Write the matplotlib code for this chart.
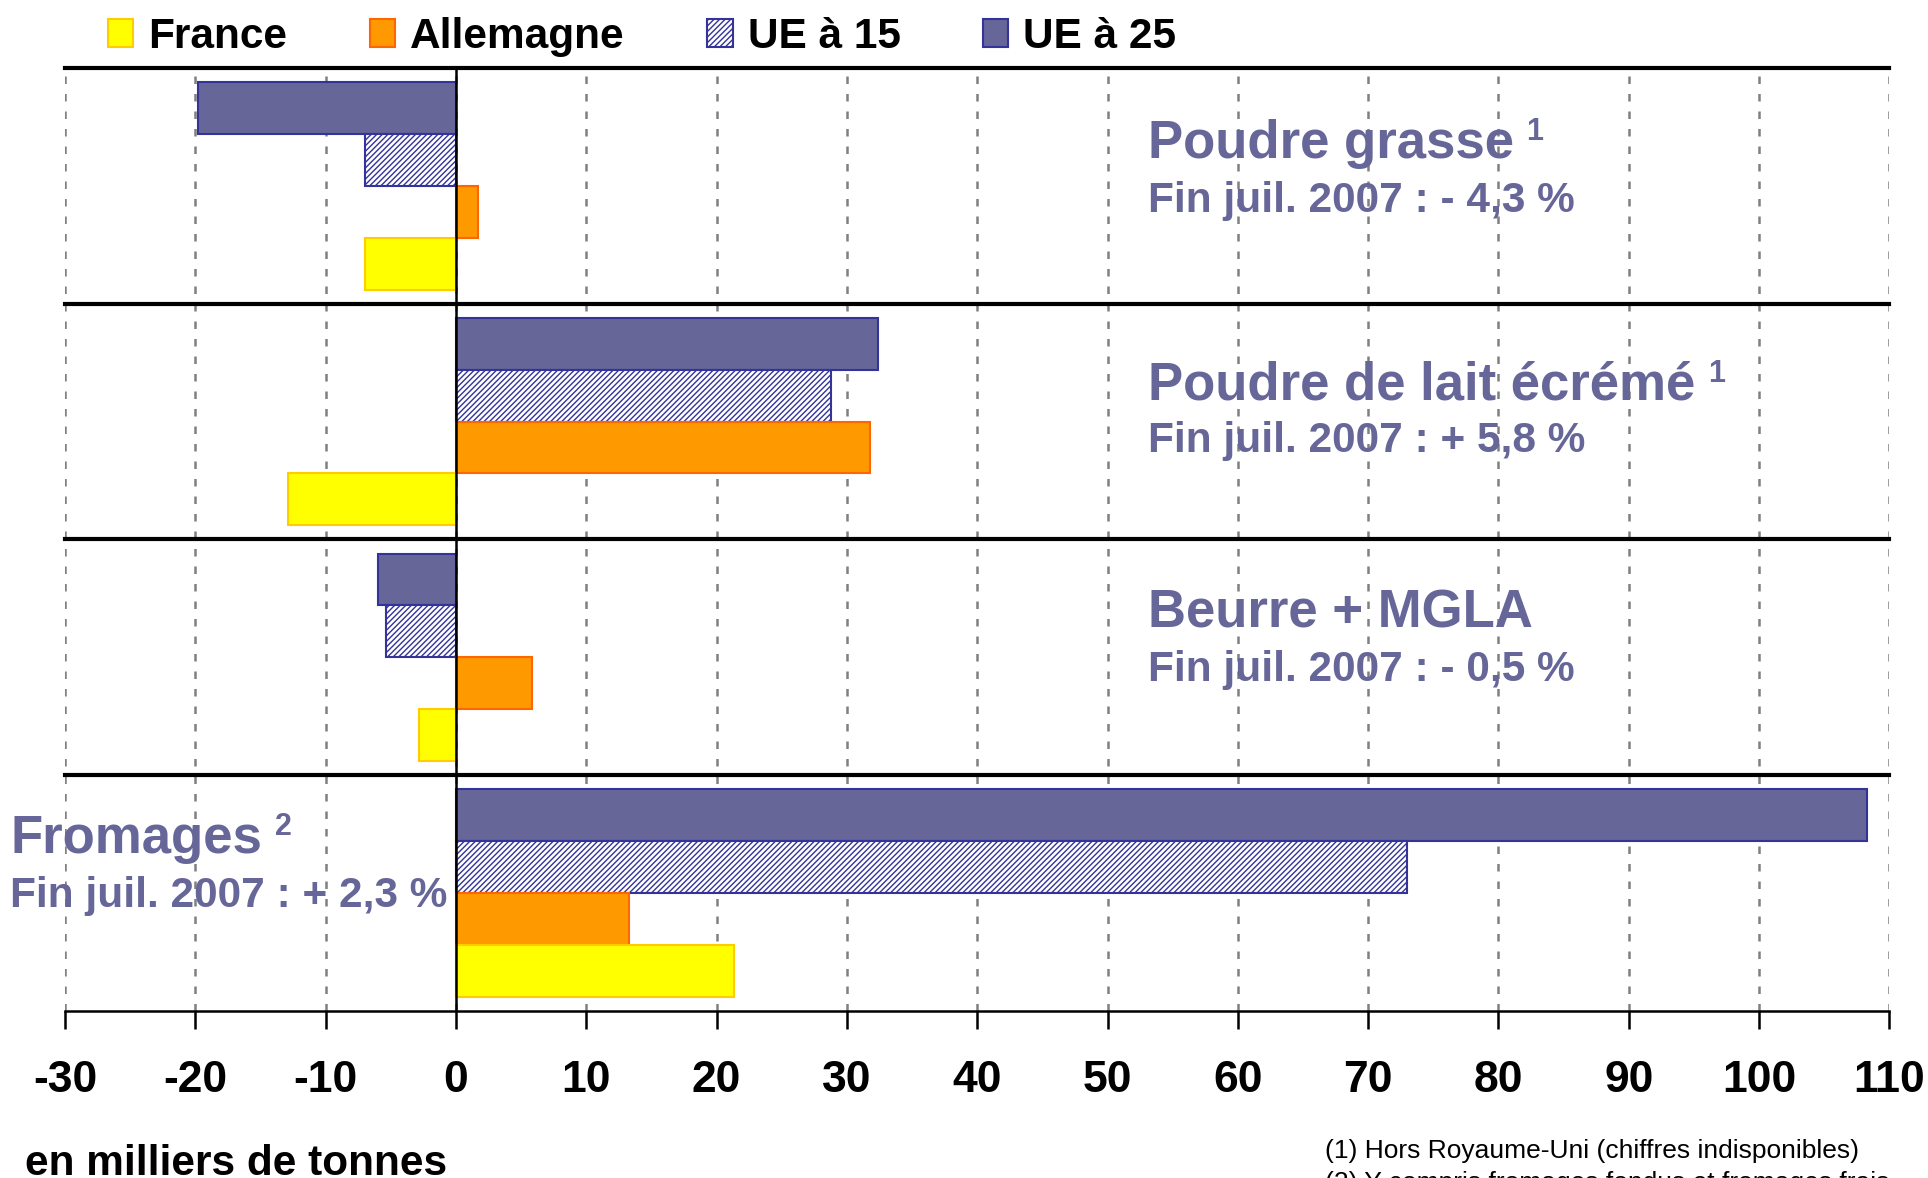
import matplotlib.pyplot as plt
from matplotlib.patches import Patch

plt.rcParams['font.family'] = ['Liberation Sans', 'DejaVu Sans']
plt.rcParams['hatch.linewidth'] = 1.0

# data (milliers de tonnes)
products = ['Poudre grasse', 'Poudre de lait écrémé', 'Beurre + MGLA', 'Fromages']
notes = ['1', '1', '', '2']
evolutions = ['Fin juil. 2007 : - 4,3 %', 'Fin juil. 2007 : + 5,8 %',
              'Fin juil. 2007 : - 0,5 %', 'Fin juil. 2007 : + 2,3 %']
series = ['UE à 25', 'UE à 15', 'Allemagne', 'France']
ue25 = [-19.8, 32.4, -6.0, 108.3]
ue15 = [-7.0, 28.8, -5.4, 73.0]
allemagne = [1.7, 31.8, 5.8, 13.3]
france = [-7.0, -12.9, -2.8, 21.3]
xticks = list(range(-30, 111, 10))

values = [ue25, ue15, allemagne, france]
faces = ['#666699', 'white', '#FF9900', '#FFFF00']
edges = ['#333399', '#333399', '#FF6600', '#FFCC00']
hatches = [None, '//////', None, None]

fig = plt.figure(figsize=(19.28, 11.78), dpi=100)
ax = fig.add_axes([0.0337, 0.1418, 0.9463, 0.8005])

bar_h = 0.22
start = 0.06
for j, vals in enumerate(values):
    ys = [i + start + bar_h * j + bar_h / 2 for i in range(len(products))]
    ax.barh(ys, vals, height=bar_h, color=faces[j], edgecolor=edges[j],
            hatch=hatches[j], linewidth=1.5, zorder=3)

ax.set_xlim(-30, 110)
ax.set_ylim(4, 0)

# grid
for x in xticks:
    ax.axvline(x, color='#808080', linestyle=(0, (3, 4)), linewidth=1.8, zorder=1)
ax.axvline(0, color='black', linewidth=1.8, zorder=4)
for i in range(len(products)):
    ax.axhline(i, color='black', linewidth=3, zorder=5, clip_on=False)

for s in ['top', 'left', 'right']:
    ax.spines[s].set_visible(False)
ax.spines['bottom'].set_linewidth(1.8)
ax.set_yticks([])
ax.set_xticks(xticks)
ax.set_xticklabels([str(x) for x in xticks], fontsize=32, fontweight='bold')
ax.tick_params(axis='x', direction='out', length=13, width=1.8, pad=22)

# product labels
label_color = '#666699'
label_x = [53.1, 53.1, 53.1, -34.2]
title_y = [0.381, 0.407, 0.375, 0.329]
sub_y = [0.61, 0.631, 0.6, 0.558]
for i, name in enumerate(products):
    t = ax.text(label_x[i], i + title_y[i], name, fontsize=38, fontweight='bold',
                color=label_color, va='baseline', ha='left', clip_on=False, zorder=6)
    if notes[i]:
        ax.annotate(notes[i], xy=(1, 1), xycoords=t, xytext=(9, 1),
                    textcoords='offset points', fontsize=22, fontweight='bold',
                    color=label_color, va='top', ha='left')
    ax.text(label_x[i], i + sub_y[i], evolutions[i], fontsize=30.5, fontweight='bold',
            color=label_color, va='baseline', ha='left', clip_on=False, zorder=6)

# legend
order = [3, 2, 1, 0]
handles = [Patch(facecolor=faces[k], edgecolor=edges[k], hatch=hatches[k], linewidth=1.5)
           for k in order]
fig.legend(handles, [series[k] for k in order], loc='center left',
           bbox_to_anchor=(0.056, 0.969), ncol=4, frameon=False,
           prop={'weight': 'bold', 'size': 30.5}, handlelength=0.6, handleheight=0.65,
           handletextpad=0.35, columnspacing=1.95, borderpad=0, borderaxespad=0)

fig.text(0.013, 1 - 1175 / 1178, 'en milliers de tonnes', fontsize=30.5,
         fontweight='bold', va='baseline', ha='left')
fig.text(0.687, 1 - 1158 / 1178, '(1) Hors Royaume-Uni (chiffres indisponibles)',
         fontsize=19, va='baseline', ha='left')
fig.text(0.687, 1 - 1190 / 1178, '(2) Y compris fromages fondus et fromages frais',
         fontsize=19, va='baseline', ha='left')

fig.savefig('out.png', dpi=100)
